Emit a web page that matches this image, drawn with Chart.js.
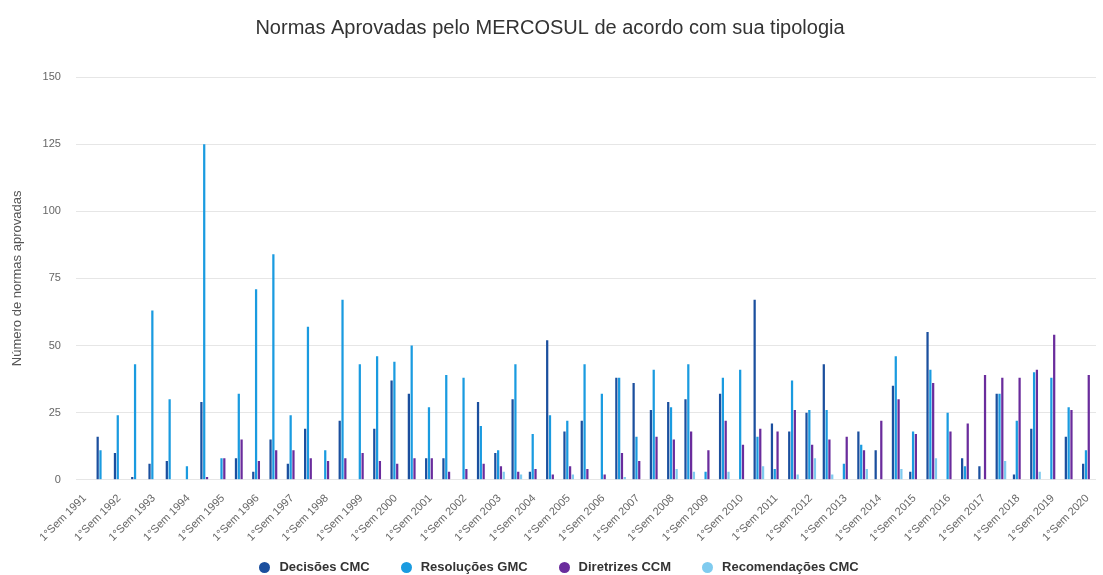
<!DOCTYPE html>
<html>
<head>
<meta charset="utf-8">
<script src="https://cdn.jsdelivr.net/npm/chart.js@4/dist/chart.umd.min.js"></script>
<style>
    body { margin: 0; background: #fff; }
    #wrap { position: relative; width: 1103px; height: 575px; }
    #legenda {
        position: absolute; left: 0; top: 558px; width: 1103px;
        display: flex; justify-content: center; padding-left: 15px; box-sizing: border-box;
        font-family: 'Liberation Sans', Arial, sans-serif; font-size: 13px; font-weight: bold; color: #333;
    }
    #legenda .item { display: flex; align-items: center; margin-right: 31px; line-height: 18px; }
    #legenda .item:last-child { margin-right: 0; }
    #legenda .dot { width: 11px; height: 11px; border-radius: 50%; margin-right: 9px; }
</style>
</head>
<body>
<div id="wrap">
    <canvas id="normas-chart" width="1103" height="575"></canvas>
    <div id="legenda"></div>
</div>
<script>
// semestres 1991 - 2020
const semestres = [];
for (let ano = 1991; ano <= 2020; ano++) {
    semestres.push('1°Sem ' + ano);
    if (ano < 2020) semestres.push('2°Sem ' + ano);
}

const decisoesCMC = [0, 16, 10, 1, 6, 7, 0, 29, 0, 8, 3, 15, 6, 19, 0, 22, 0, 19, 37, 32,
    8, 8, 0, 29, 10, 30, 3, 52, 18, 22, 0, 38, 36, 26, 29, 30, 0, 32, 0, 67,
    21, 18, 25, 43, 0, 18, 11, 35, 3, 55, 0, 8, 5, 32, 2, 19, 0, 16, 6];
const resolucoesGMC = [0, 11, 24, 43, 63, 30, 5, 125, 8, 32, 71, 84, 24, 57, 11, 67, 43, 46, 44, 50,
    27, 39, 38, 20, 11, 43, 17, 24, 22, 43, 32, 38, 16, 41, 27, 43, 3, 38, 41, 16,
    4, 37, 26, 26, 6, 13, 0, 46, 18, 41, 25, 5, 0, 32, 22, 40, 38, 27, 11];
const diretrizesCCM = [0, 0, 0, 0, 0, 0, 0, 1, 8, 15, 7, 11, 11, 8, 7, 8, 10, 7, 6, 8,
    8, 3, 4, 6, 5, 3, 4, 2, 5, 4, 2, 10, 7, 16, 15, 18, 11, 22, 13, 19,
    18, 26, 13, 15, 16, 11, 22, 30, 17, 36, 18, 21, 39, 38, 38, 41, 54, 26, 39];
const recomendacoesCMC = [0, 0, 0, 0, 0, 0, 0, 0, 0, 0, 0, 0, 0, 0, 0, 0, 0, 0, 0, 0,
    0, 0, 0, 0, 3, 2, 0, 0, 2, 0, 0, 1, 0, 0, 4, 3, 0, 3, 0, 5,
    0, 2, 8, 2, 0, 4, 0, 4, 0, 8, 0, 0, 0, 7, 0, 3, 0, 0, 0];

const yTicks = [0, 25, 50, 75, 100, 125, 150];

const cores = {
    decisoes: '#1b4f9e',
    resolucoes: '#1a9be0',
    diretrizes: '#6a2c9c',
    recomendacoes: '#7fcbef'
};

const fonte = "'Liberation Sans', Arial, sans-serif";

function serie(label, data, cor) {
    return {
        label: label,
        data: data,
        backgroundColor: cor,
        borderWidth: 0,
        categoryPercentage: 0.65,
        barPercentage: 0.8
    };
}

// legenda em HTML, montada a partir dos itens do próprio gráfico
const legendaHtml = {
    id: 'legendaHtml',
    afterUpdate(chart) {
        const box = document.getElementById('legenda');
        box.innerHTML = '';
        const items = chart.options.plugins.legend.labels.generateLabels(chart);
        items.forEach(item => {
            const el = document.createElement('div');
            el.className = 'item';
            const dot = document.createElement('span');
            dot.className = 'dot';
            dot.style.background = item.fillStyle;
            const txt = document.createElement('span');
            txt.textContent = item.text;
            el.appendChild(dot);
            el.appendChild(txt);
            box.appendChild(el);
        });
    }
};

new Chart(document.getElementById('normas-chart').getContext('2d'), {
    type: 'bar',
    data: {
        labels: semestres,
        datasets: [
            serie('Decisões CMC', decisoesCMC, cores.decisoes),
            serie('Resoluções GMC', resolucoesGMC, cores.resolucoes),
            serie('Diretrizes CCM', diretrizesCCM, cores.diretrizes),
            serie('Recomendações CMC', recomendacoesCMC, cores.recomendacoes)
        ]
    },
    plugins: [legendaHtml],
    options: {
        responsive: false,
        animation: false,
        layout: { padding: { left: 4, right: 7, top: 0, bottom: 27 } },
        plugins: {
            title: {
                display: true,
                text: 'Normas Aprovadas pelo MERCOSUL de acordo com sua tipologia',
                color: '#333',
                font: { family: fonte, size: 20, weight: 'normal' },
                padding: { top: 16, bottom: 37 }
            },
            legend: { display: false },
            tooltip: { enabled: false }
        },
        scales: {
            x: {
                grid: { display: false },
                border: { display: false },
                ticks: {
                    autoSkip: false,
                    minRotation: 45,
                    maxRotation: 45,
                    padding: 4,
                    color: '#666',
                    font: { family: fonte, size: 11 },
                    callback: function (value, index) {
                        return index % 2 === 0 ? this.getLabelForValue(value) : '';
                    }
                }
            },
            y: {
                min: 0,
                max: 150,
                afterBuildTicks: (axis) => {
                    axis.ticks = yTicks.map(v => ({ value: v }));
                },
                grid: { color: '#e6e6e6', drawTicks: false },
                border: { display: false },
                ticks: {
                    padding: 15,
                    color: '#666',
                    font: { family: fonte, size: 11 }
                },
                title: {
                    display: true,
                    text: 'Número de normas aprovadas',
                    color: '#555',
                    font: { family: fonte, size: 13 },
                    padding: { top: 6, bottom: 2 }
                }
            }
        }
    }
});
</script>
</body>
</html>
